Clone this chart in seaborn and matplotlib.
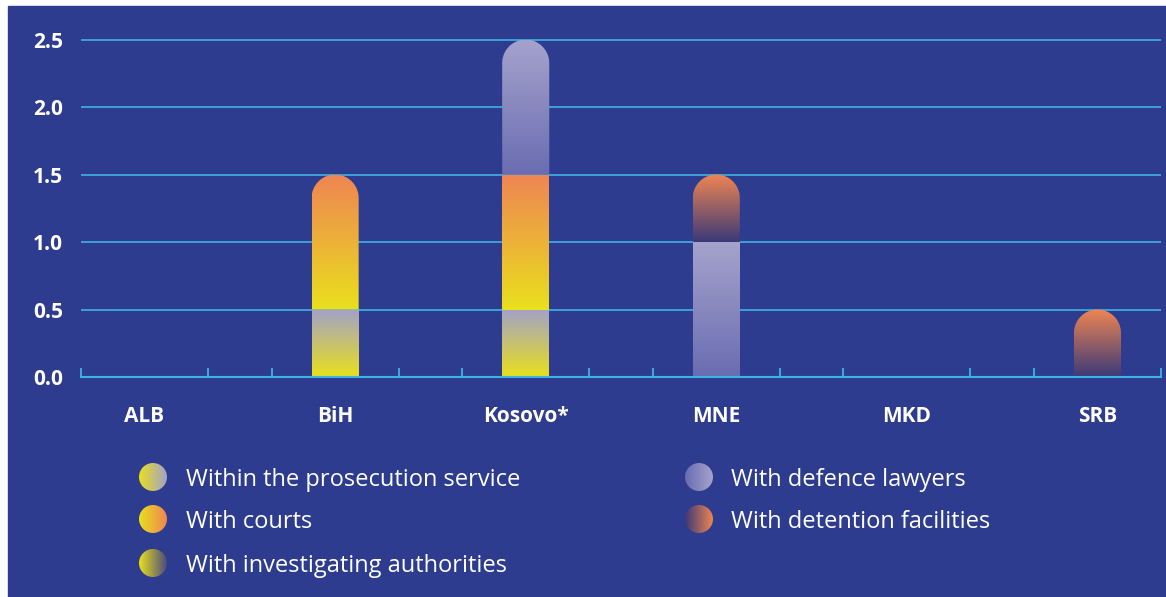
import numpy as np
import pandas as pd
import seaborn as sns
import matplotlib.pyplot as plt
from matplotlib.colors import LinearSegmentedColormap
from matplotlib.patches import PathPatch, Rectangle, Circle
from matplotlib.path import Path

# ---------------------------------------------------------------
# Datos
# ---------------------------------------------------------------
cats = ['ALB', 'BiH', 'Kosovo*', 'MNE', 'MKD', 'SRB']
series = ['Within the prosecution service', 'With courts',
          'With investigating authorities', 'With defence lawyers',
          'With detention facilities']
prosecution = [0, 0.5, 0.5, 0, 0, 0]
courts = [0, 1.0, 1.0, 0, 0, 0]
investigating = [0, 0, 0, 0, 0, 0]
defence = [0, 0, 1.0, 1.0, 0, 0]
detention = [0, 0, 0, 0.5, 0, 0.5]
y_ticks = [0.0, 0.5, 1.0, 1.5, 2.0, 2.5]

# colores de degradado (abajo -> arriba en barras, izq -> der en leyenda)
BLUE = '#2d3c8e'
CYAN = '#3fb2e4'
gradients = {
    series[0]: ('#e9e01c', '#a3a1c9'),
    series[1]: ('#e9e01c', '#ef8553'),
    series[2]: ('#e9e01c', '#4b4a7e'),
    series[3]: ('#6a6cb2', '#a5a3cc'),
    series[4]: ('#3b3978', '#ef8553'),
}
cmaps = {k: LinearSegmentedColormap.from_list(k, v) for k, v in gradients.items()}

df = pd.DataFrame({'cat': cats, series[0]: prosecution, series[1]: courts,
                   series[2]: investigating, series[3]: defence,
                   series[4]: detention})
cum = df[series].cumsum(axis=1)
totals = cum[series[-1]].values

sns.set_theme(style='ticks')
plt.rcParams['font.family'] = ['Open Sans', 'DejaVu Sans']

W, H = 1166, 597
fig = plt.figure(figsize=(W / 100, H / 100), dpi=100, facecolor='white')

# fondo azul + leyenda en coordenadas de pixel
bg = fig.add_axes([0, 0, 1, 1], zorder=0)
bg.add_patch(Rectangle((8, 6), W - 8, H - 6, color=BLUE, zorder=0))

ax = fig.add_axes([81 / W, 1 - 377 / H, 1080 / W, 338 / H], zorder=1)
ax.patch.set_alpha(0)

# =====================================================================
# Barras apiladas: seaborn dibuja los acumulados, luego se rellena
# cada tramo con un degradado recortado (tapa redondeada arriba)
# =====================================================================
bar_w = 0.247
segments = []
for k, name in enumerate(series):
    n0 = len(ax.patches)
    sns.barplot(x=cats, y=cum[name].values, order=cats, width=bar_w,
                color='k', errorbar=None, ax=ax)
    bottoms = cum[series[k - 1]].values if k else np.zeros(len(cats))
    for j, p in enumerate(ax.patches[n0:]):
        p.set_visible(False)
        if p.get_height() - bottoms[j] > 1e-9:
            segments.append((p.get_x(), p.get_width(), bottoms[j], p.get_height(), name, j))

xlim = (-1 / 3, len(cats) - 1 + 1 / 3)
ylim = (0, 2.5)
px_x = 1080 / (xlim[1] - xlim[0])
px_y = 338 / (ylim[1] - ylim[0])


def bar_path(x0, w, b, t, rounded):
    rx = w / 2
    ry = rx * px_x / px_y if rounded else 0
    xc = x0 + rx
    verts = [(x0, b), (x0 + w, b), (x0 + w, t - ry)]
    if rounded:
        ang = np.linspace(0, np.pi, 60)
        verts += list(zip(xc + rx * np.cos(ang), t - ry + ry * np.sin(ang)))
    else:
        verts += [(x0, t)]
    verts += [(x0, b)]
    return Path(verts, closed=True)


grad_v = np.linspace(0, 1, 256).reshape(-1, 1)
for x0, w, b, t, name, j in segments:
    rounded = np.isclose(t, totals[j])
    clip = PathPatch(bar_path(x0, w, b, t, rounded), transform=ax.transData)
    im = ax.imshow(grad_v, cmap=cmaps[name], extent=[x0, x0 + w, b, t],
                   origin='lower', aspect='auto', zorder=2,
                   interpolation='bilinear')
    im.set_clip_path(clip)

ax.set_xlim(*xlim)
ax.set_ylim(ylim[0], ylim[1] + 0.004)
ax.set_xlabel('')
ax.set_ylabel('')

# ejes, rejilla y marcas
ax.set_yticks(y_ticks, [f'{v:.1f}' for v in y_ticks])
ax.set_xticks(range(len(cats)), cats)
minor = [i + d for i in range(-1, len(cats)) for d in (1 / 3, 2 / 3)]
minor = [m for m in minor if xlim[0] - 1e-9 <= m <= xlim[1] + 1e-9]
ax.set_xticks(minor, minor=True)
ax.yaxis.grid(True, color=CYAN, lw=1.2)
ax.xaxis.grid(False)
ax.set_axisbelow(True)
for s in ['top', 'right', 'left']:
    ax.spines[s].set_visible(False)
ax.spines['bottom'].set_color(CYAN)
ax.spines['bottom'].set_linewidth(1.5)
ax.tick_params(axis='x', which='major', length=0, pad=21, labelsize=15,
               labelcolor='white')
ax.tick_params(axis='x', which='minor', direction='in', length=6.5,
               width=1.3, color=CYAN)
ax.tick_params(axis='y', length=0, pad=13, labelsize=15, labelcolor='white')
for lab in ax.get_xticklabels() + ax.get_yticklabels():
    lab.set_fontweight('bold')

# =====================================================================
# Leyenda (circulos con degradado horizontal)
# =====================================================================
legend_pos = [(153, 186, 477), (153, 186, 519), (153, 186, 563),
              (699, 731, 477), (699, 731, 519)]
grad_h = np.linspace(0, 1, 256).reshape(1, -1)
r = 14
for name, (cx, tx, cy) in zip(series, legend_pos):
    im = bg.imshow(grad_h, cmap=cmaps[name], extent=[cx - r, cx + r, cy + r, cy - r],
                   aspect='auto', zorder=2, interpolation='bilinear')
    im.set_clip_path(Circle((cx, cy), r, transform=bg.transData))
    bg.text(tx, cy + 3, name, va='center', ha='left', color='white', fontsize=17)

bg.set_xlim(0, W)
bg.set_ylim(H, 0)
bg.axis('off')

fig.savefig('out.png', dpi=100, facecolor='white')
